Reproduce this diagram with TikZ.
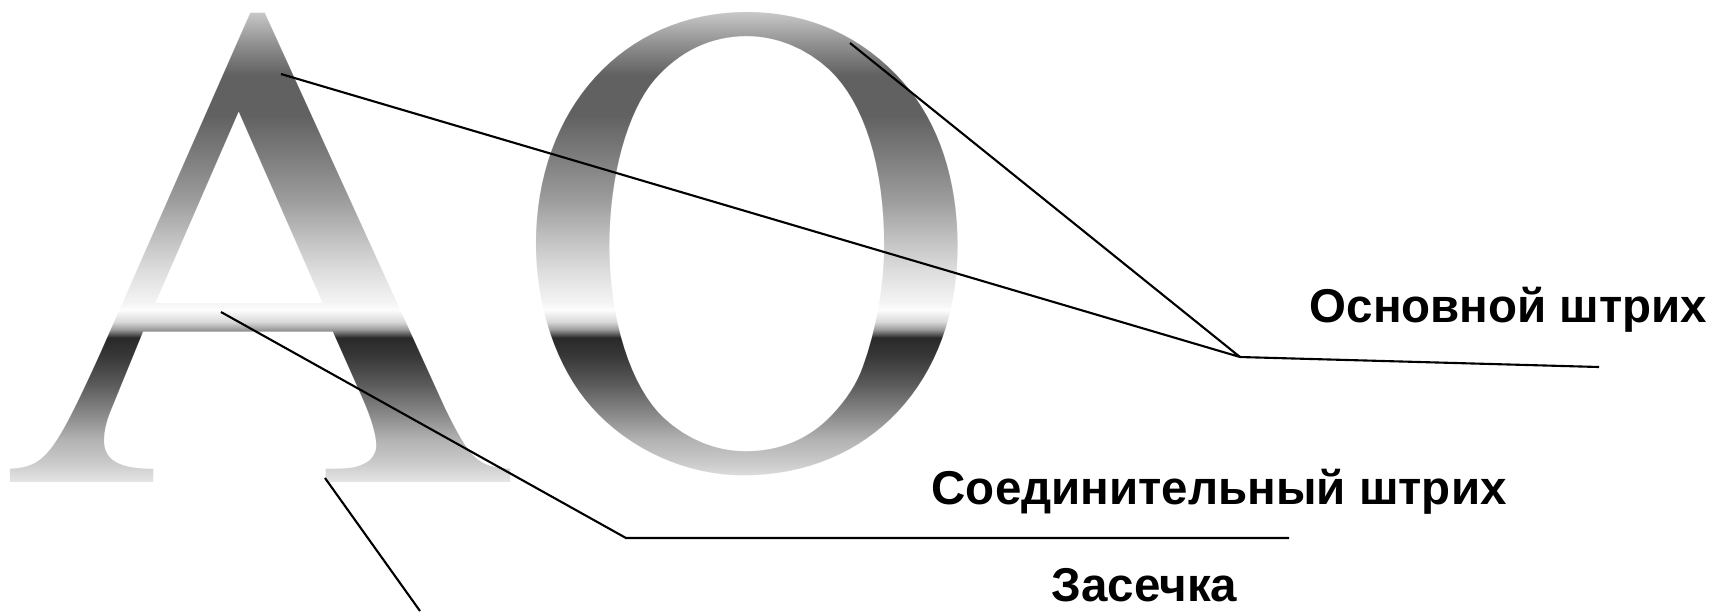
\documentclass[tikz,border=0pt]{standalone}
\usepackage{fontspec}
\setmainfont{Liberation Sans}
\newfontfamily\glyphserif{TeX Gyre Termes}
\usepackage{tikz}
\usetikzlibrary{fadings,positioning}

\pgfdeclareverticalshading{chrome}{100bp}{%
  color(0bp)=(white!90!black); color(26.3bp)=(white!90!black);
  color(28.5bp)=(white!78!black); color(30.6bp)=(white!70!black);
  color(33.3bp)=(white!53!black); color(36.3bp)=(white!35!black);
  color(39.0bp)=(white!22!black); color(40.9bp)=(white!16!black);
  color(41.7bp)=(white!60!black); color(42.5bp)=(white!85!black);
  color(43.7bp)=(white!99!black); color(44.7bp)=(white!95!black);
  color(47.9bp)=(white!86!black); color(51.1bp)=(white!75!black);
  color(54.9bp)=(white!61!black); color(59.6bp)=(white!48!black);
  color(63.4bp)=(white!38!black); color(67.4bp)=(white!38!black);
  color(70.5bp)=(white!56!black); color(73.7bp)=(white!78!black);
  color(100bp)=(white!78!black)}

\begin{tikzfadingfrompicture}[name=lettersAO,x=0.01cm,y=-0.01cm,
          glyph/.style={text=white,inner sep=0pt,anchor=base}]
  \path (-500,-247.5) rectangle (500,247.5);
  \node[glyph,xscale=1.04,font=\glyphserif\fontsize{198}{198}\selectfont](glA) at (-240.5,234.5){A};
  \node[glyph,xscale=0.96,font=\glyphserif\fontsize{191}{191}\selectfont](glO) at (246,219.1){O};
\end{tikzfadingfrompicture}

\begin{document}
\begin{tikzpicture}[x=0.01cm,y=-0.01cm,
          tag/.style={font=\bfseries\fontsize{13.5}{16}\selectfont,inner sep=0pt,anchor=base west},
          lead/.style={black,line width=0.6pt}]
  \useasboundingbox (0,0) rectangle (1713,611);

  % letters A and O, metal gradient
  \shade[shading=chrome,path fading=lettersAO,fit fading=false,
         fading transform={shift={(500,247.5)}}] (0,0) rectangle (1000,495);

  % labels
  \node[tag](osn) at (1309,322){Основной штрих};
  \node[tag](soed) at (931,504){Соединительный штрих};
  \node[tag](zas) at (1051,601){Засечка};

  % leader lines
  \coordinate (apexA) at (281,74);
  \coordinate (bowlO) at (850,43);
  \coordinate (hubOsn) at (1240,357);
  \coordinate (endOsn) at (1599,367);
  \coordinate (barA) at (221,312);
  \coordinate (hubSoed) at (626,538);
  \coordinate (endSoed) at (1289,538);
  \coordinate (footA) at (325,478);
  \coordinate (endZas) at (420,611);
  \draw[lead](apexA)--(hubOsn)(bowlO)--(hubOsn)--(endOsn);
  \draw[lead](barA)--(hubSoed)--(endSoed);
  \draw[lead](footA)--(endZas);
\end{tikzpicture}
\end{document}
